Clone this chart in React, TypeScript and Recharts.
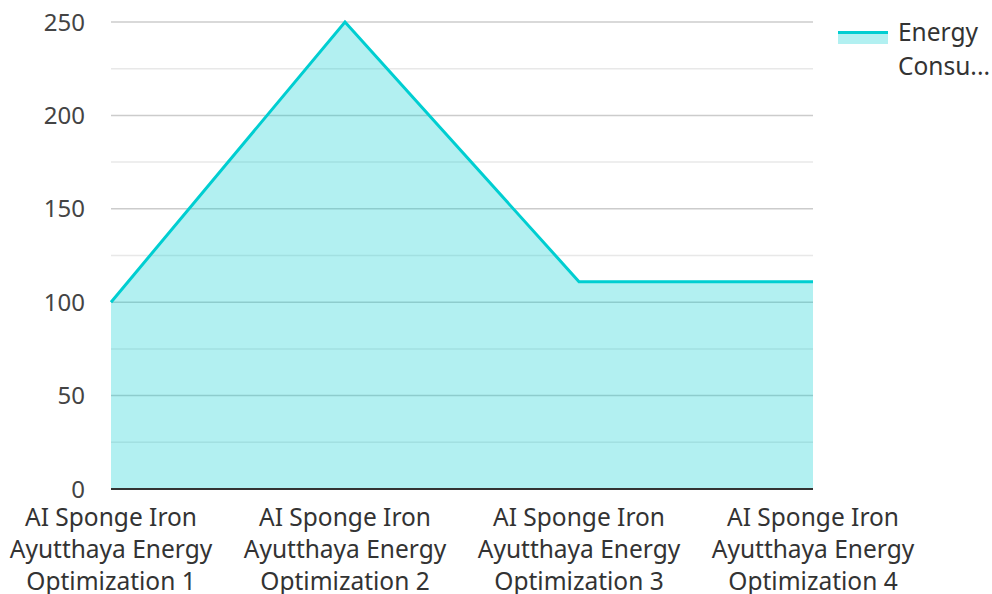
import React from "react";
import { AreaChart, Area, XAxis, YAxis, CartesianGrid } from "recharts";

const categories = [
  "AI Sponge Iron Ayutthaya Energy Optimization 1",
  "AI Sponge Iron Ayutthaya Energy Optimization 2",
  "AI Sponge Iron Ayutthaya Energy Optimization 3",
  "AI Sponge Iron Ayutthaya Energy Optimization 4",
];
const energyValues = [100, 250, 111, 111];
const majorTicks = [0, 50, 100, 150, 200, 250];
const minorTicks = [25, 75, 125, 175, 225];
const seriesName = "Energy Consumption";

const C = {
  line: "#00CED1",
  major: "#cccccc",
  minor: "#e8e8e8",
  axis: "#333333",
  text: "#444444",
};

const FONT = "'Noto Sans', sans-serif";

const data = categories.map((name, i) => ({ name, value: energyValues[i] }));

// greedy word wrap by character count
function wrap(label: string, maxChars: number) {
  const lines: string[] = [];
  let cur = "";
  for (const w of label.split(" ")) {
    const next = cur ? cur + " " + w : w;
    if (next.length > maxChars && cur) {
      lines.push(cur);
      cur = w;
    } else cur = next;
  }
  if (cur) lines.push(cur);
  return lines;
}

function CategoryTick({ x, y, payload }: { x?: number; y?: number; payload?: { value: string } }) {
  const lines = wrap(payload?.value ?? "", 17);
  return (
    <text
      x={x}
      y={(y ?? 0) + 37}
      textAnchor="middle"
      fill="#333"
      style={{ fontSize: 24.5, fontFamily: FONT }}
    >
      {lines.map((l, i) => (
        <tspan key={i} x={x} dy={i === 0 ? 0 : 32}>
          {l}
        </tspan>
      ))}
    </text>
  );
}

export default function App() {
  return (
    <div style={{ position: "absolute", left: 0, top: 0, width: 992, height: 594, fontFamily: FONT }}>
      <AreaChart
        width={992}
        height={594}
        data={data}
        margin={{ top: 22, right: 179, bottom: 75, left: 0 }}
      >
        <CartesianGrid vertical={false} horizontalValues={minorTicks} stroke={C.minor} strokeWidth={1.5} />
        <CartesianGrid vertical={false} horizontalValues={majorTicks} stroke={C.major} strokeWidth={1.5} />
        <XAxis
          dataKey="name"
          interval={0}
          height={30}
          tickLine={false}
          tickSize={0}
          tickMargin={0}
          axisLine={{ stroke: C.axis, strokeWidth: 2 }}
          tick={<CategoryTick />}
        />
        <YAxis
          domain={[0, 250]}
          ticks={majorTicks}
          width={111}
          axisLine={false}
          tickLine={false}
          tickSize={0}
          tickMargin={26}
          tick={{ fontSize: 24, fill: C.text, fontFamily: FONT }}
        />
        <Area
          type="linear"
          dataKey="value"
          name={seriesName}
          stroke={C.line}
          strokeWidth={3}
          fill={C.line}
          fillOpacity={0.3}
          dot={false}
          activeDot={false}
          isAnimationActive={false}
        />
      </AreaChart>
      <div style={{ position: "absolute", left: 838, top: 15, display: "flex", alignItems: "flex-start" }}>
        <div style={{ width: 50, marginTop: 16, height: 13, position: "relative" }}>
          <div style={{ position: "absolute", left: 0, top: 0, width: 50, height: 3, background: C.line }} />
          <div style={{ position: "absolute", left: 0, top: 3, width: 50, height: 10, background: C.line, opacity: 0.3 }} />
        </div>
        <div style={{ marginLeft: 10, fontSize: 24.5, lineHeight: "34px", color: "#333", width: 94, whiteSpace: "nowrap" }}>
          <div>Energy</div>
          <div>Consu...</div>
        </div>
      </div>
    </div>
  );
}
